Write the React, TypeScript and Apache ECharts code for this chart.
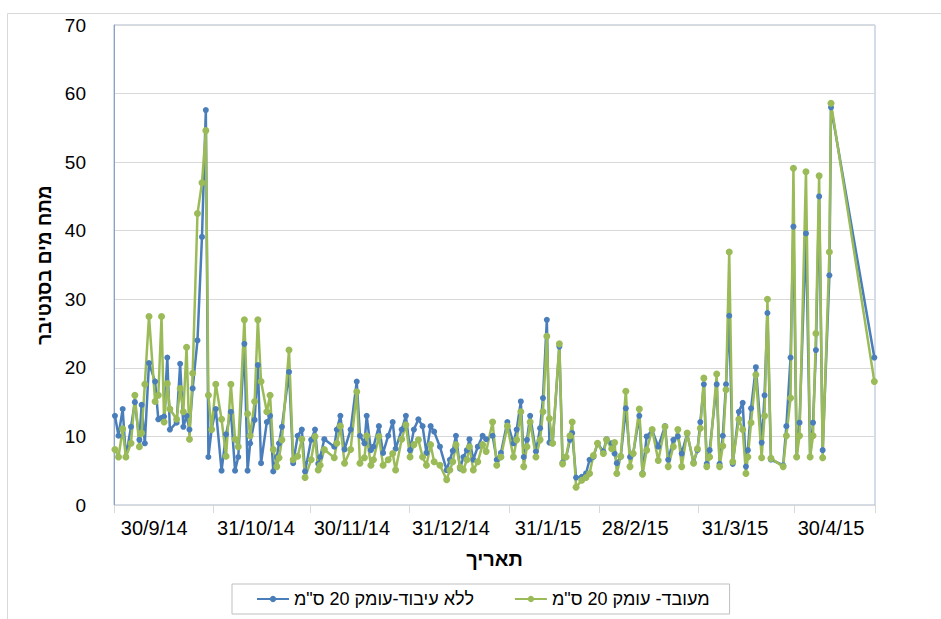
import React, { useEffect, useRef } from "react";
import * as echarts from "echarts";

// x = days from the left edge of the date axis
const xDays = [
  0.3, 1.4, 2.7, 3.7, 5.3, 6.5, 7.9, 8.6, 9.6, 10.9, 12.8, 13.8, 14.8, 15.6, 16.6, 17.4, 19.5, 20.6, 21.6, 22.6,
  23.5, 24.5, 26.0, 27.4, 28.6, 29.4, 30.4, 31.7, 33.5, 34.9, 36.4, 37.7, 38.7, 40.6, 41.6, 42.4, 43.8, 44.8, 45.8, 47.6,
  48.6, 49.6, 50.7, 51.4, 52.3, 54.5, 55.8, 57.2, 58.5, 59.5, 61.4, 62.6, 63.6, 64.2, 65.5, 68.6, 69.4, 70.5, 71.8, 73.7,
  75.6, 76.6, 78.0, 78.7, 80.0, 80.8, 82.5, 83.8, 85.4, 86.8, 87.7, 89.6, 90.9, 92.2, 93.4, 94.8, 96.1, 97.3, 98.6, 99.7,
  101.5, 103.6, 104.6, 105.5, 106.5, 107.8, 108.8, 109.9, 110.7, 111.9, 113.3, 114.8, 115.9, 117.9, 119.2, 120.5, 122.5, 124.4, 125.4, 126.7,
  127.6, 128.6, 129.6, 131.4, 132.7, 133.6, 134.8, 135.6, 136.6, 138.7, 139.7, 140.8, 142.0, 142.7, 143.9, 145.7, 147.0, 148.1, 149.3, 150.6,
  152.4, 153.4, 155.0, 155.9, 156.6, 157.8, 159.4, 160.7, 161.7, 163.6, 164.6, 165.9, 167.6, 169.5, 171.6, 172.6, 174.2, 175.6, 176.8, 178.5,
  180.5, 181.7, 182.6, 183.7, 184.6, 185.5, 187.7, 188.6, 189.6, 190.6, 191.6, 192.7, 194.6, 195.8, 196.8, 197.4, 198.4, 199.9, 201.7, 202.6,
  203.5, 204.6, 208.4, 209.4, 210.7, 211.6, 212.6, 213.5, 215.5, 216.8, 217.7, 218.6, 219.6, 220.7, 222.8, 223.3, 236.8,
];

const blueValues = [
  13.0, 10.1, 14.0, 7.0, 11.4, 15.0, 9.5, 14.6, 9.0, 20.7, 18.0, 12.5, 12.7, 12.9, 21.5, 11.0, 12.0, 20.6, 11.4, 13.0,
  11.0, 17.0, 24.0, 39.1, 57.6, 7.0, 11.0, 14.0, 5.0, 10.3, 13.6, 5.0, 7.0, 23.5, 5.0, 9.0, 12.4, 20.4, 6.1, 12.1,
  13.0, 4.9, 7.0, 9.0, 11.4, 19.4, 6.1, 10.1, 11.0, 4.9, 9.5, 11.0, 6.0, 7.0, 9.6, 8.5, 11.0, 13.0, 8.1, 11.0,
  18.0, 10.1, 9.0, 13.0, 8.0, 8.5, 11.5, 7.6, 10.1, 12.1, 8.2, 11.0, 13.0, 8.0, 11.0, 12.5, 11.5, 7.6, 11.5, 10.7,
  8.5, 5.1, 6.6, 7.9, 10.1, 5.3, 7.0, 8.0, 9.6, 6.6, 8.5, 10.1, 9.6, 10.1, 6.6, 7.6, 12.1, 9.0, 11.0, 15.1,
  7.0, 9.5, 13.0, 7.8, 11.2, 15.6, 27.0, 9.1, 9.0, 23.1, 6.2, 7.0, 9.5, 10.5, 4.0, 4.1, 4.6, 6.6, 7.0, 9.0,
  7.8, 9.6, 9.0, 7.5, 6.1, 7.0, 14.1, 7.0, 7.5, 13.0, 4.6, 10.0, 10.9, 8.5, 11.5, 6.6, 9.5, 10.0, 7.5, 10.4,
  6.2, 8.0, 12.1, 17.6, 6.0, 8.0, 17.6, 6.0, 10.1, 17.6, 27.6, 6.0, 13.6, 14.9, 5.6, 8.0, 14.1, 20.1, 9.1, 16.0,
  28.0, 6.6, 5.8, 11.5, 21.5, 40.6, 7.0, 12.0, 39.6, 7.0, 12.0, 22.6, 45.0, 8.0, 33.5, 58.0, 21.5,
];

const greenValues = [
  8.1, 7.0, 11.1, 7.0, 9.0, 16.0, 8.5, 10.5, 17.6, 27.5, 15.1, 16.0, 27.5, 12.1, 17.7, 14.0, 12.5, 17.0, 13.6, 23.0,
  9.6, 19.2, 42.5, 47.0, 54.6, 16.0, 11.0, 17.6, 12.5, 7.1, 17.6, 9.6, 8.5, 27.0, 13.3, 10.1, 15.1, 27.0, 18.0, 13.6,
  16.0, 8.1, 5.6, 6.9, 9.5, 22.6, 6.6, 7.1, 9.6, 4.0, 6.6, 10.0, 5.1, 5.8, 8.1, 6.9, 9.0, 11.5, 6.1, 8.1,
  16.5, 6.1, 6.9, 10.1, 5.8, 6.6, 10.0, 5.8, 6.6, 7.5, 5.1, 9.6, 11.7, 7.0, 8.8, 9.5, 7.0, 5.8, 8.8, 6.3,
  5.8, 3.7, 5.1, 6.3, 8.8, 5.5, 5.1, 6.6, 8.5, 5.1, 6.3, 8.8, 7.8, 12.1, 5.8, 7.0, 11.5, 7.0, 9.5, 13.6,
  5.6, 8.5, 12.1, 7.0, 9.5, 13.6, 24.6, 12.6, 9.0, 23.5, 6.0, 7.0, 10.1, 12.1, 2.6, 3.6, 4.0, 4.6, 7.2, 9.0,
  7.5, 9.5, 8.2, 9.1, 4.6, 7.1, 16.6, 5.6, 7.5, 14.0, 4.5, 8.0, 11.0, 6.5, 11.4, 5.6, 8.5, 11.0, 5.6, 10.5,
  6.1, 8.2, 11.2, 18.5, 5.6, 7.0, 19.1, 5.6, 8.6, 16.8, 36.9, 6.3, 12.5, 11.0, 4.6, 7.0, 12.0, 19.0, 6.9, 13.0,
  30.0, 6.8, 5.6, 10.1, 15.6, 49.1, 7.0, 10.1, 48.6, 7.0, 10.1, 25.0, 48.0, 6.9, 36.9, 58.6, 18.0,
];

const seriesNames = ['ללא עיבוד-עומק 20 ס"מ', 'מעובד- עומק 20 ס"מ'];
const tickDays = [0, 31, 61, 92, 123, 151, 182, 212, 237];
const labelDays = [12.5, 44.2, 74.1, 104.9, 135.2, 162.3, 193.4, 223.3];
const labelTexts = ["30/9/14", "31/10/14", "30/11/14", "31/12/14", "31/1/15", "28/2/15", "31/3/15", "30/4/15"];
const yTicks = [0, 10, 20, 30, 40, 50, 60, 70];

const FONT = "'Liberation Sans', Arial, sans-serif";

export default function App() {
  const ref = useRef<HTMLDivElement>(null);
  useEffect(() => {
    if (!ref.current) return;
    const chart = echarts.init(ref.current, undefined, { renderer: "svg" });
    const pairs = (vals: number[]) => xDays.map((d, i) => [d, vals[i]]);
    chart.setOption({
      animation: false,
      backgroundColor: "#ffffff",
      textStyle: { fontFamily: FONT },
      graphic: [
        {
          type: "rect",
          left: 5,
          top: 11,
          shape: { width: 945, height: 620 },
          style: { fill: "none", stroke: "#d9d9d9", lineWidth: 1 },
          silent: true,
        },
      ],
      grid: {
        left: 114,
        right: 66,
        top: 25,
        bottom: 114,
        show: true,
        borderColor: "#a8b9d1",
        borderWidth: 1,
      },
      xAxis: {
        type: "value",
        min: tickDays[0],
        max: tickDays[tickDays.length - 1],
        name: "תאריך",
        nameLocation: "middle",
        nameGap: 44,
        nameTextStyle: { fontSize: 20, fontWeight: "bold", color: "#000", fontFamily: FONT },
        axisLine: { show: true, lineStyle: { color: "#d9d9d9", width: 1 } },
        axisTick: { show: true, customValues: tickDays, length: 8, lineStyle: { color: "#d9d9d9" } },
        axisLabel: {
          customValues: labelDays,
          fontSize: 20,
          color: "#000",
          margin: 13,
          fontFamily: FONT,
          formatter: (v: number) => {
            const i = labelDays.findIndex((d) => Math.abs(d - v) < 0.01);
            return i >= 0 ? labelTexts[i] : "";
          },
        },
        splitLine: { show: false },
      },
      yAxis: {
        type: "value",
        min: yTicks[0],
        max: yTicks[yTicks.length - 1],
        interval: 10,
        name: "מתח מים בסנטיבר",
        nameLocation: "middle",
        nameRotate: 90,
        nameGap: 57,
        nameTextStyle: { fontSize: 19, fontWeight: "bold", color: "#000", fontFamily: FONT },
        axisLine: { show: true, lineStyle: { color: "#8aa2c6", width: 1 } },
        axisTick: { show: false },
        axisLabel: { fontSize: 19, color: "#000", margin: 28, fontFamily: FONT },
        splitLine: { show: true, lineStyle: { color: "#d9d9d9", width: 1 } },
      },
      legend: {
        data: seriesNames,
        left: 232,
        bottom: 5,
        orient: "horizontal",
        borderColor: "#bfbfbf",
        borderWidth: 1,
        borderRadius: 0,
        padding: [6, 20, 6, 24],
        itemGap: 40,
        itemWidth: 32,
        itemHeight: 8,
        textStyle: { fontSize: 18, color: "#000", fontFamily: FONT },
      },
      series: [
        {
          name: seriesNames[0],
          type: "line",
          data: pairs(blueValues),
          symbol: "circle",
          symbolSize: 6,
          color: "#4a7ebb",
          lineStyle: { width: 2.5, color: "#4a7ebb" },
          itemStyle: { color: "#4a7ebb" },
        },
        {
          name: seriesNames[1],
          type: "line",
          data: pairs(greenValues),
          symbol: "circle",
          symbolSize: 7,
          color: "#9bbb59",
          lineStyle: { width: 2.5, color: "#9bbb59" },
          itemStyle: { color: "#9bbb59" },
        },
      ],
    });
    return () => chart.dispose();
  }, []);
  return (
    <div
      ref={ref}
      style={{ position: "fixed", left: 0, top: 0, width: 941, height: 619, background: "#fff" }}
    />
  );
}
